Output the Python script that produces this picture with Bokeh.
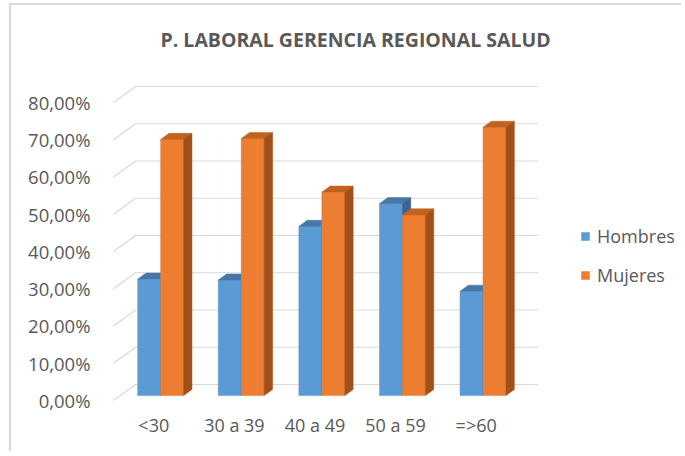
from bokeh.plotting import figure
from bokeh.models import Range1d, FixedTicker, Legend, LegendItem
from bokeh.embed import file_html
from bokeh.resources import INLINE

# ---- data ----
categories = ["<30", "30 a 39", "40 a 49", "50 a 59", "=>60"]
hombres = [31.25, 31.0, 45.4, 51.5, 28.0]
mujeres = [68.75, 69.0, 54.6, 48.5, 72.0]
series_names = ["Hombres", "Mujeres"]
y_ticks = [0, 10, 20, 30, 40, 50, 60, 70, 80]
y_tick_labels = ["0,00%", "10,00%", "20,00%", "30,00%", "40,00%",
                 "50,00%", "60,00%", "70,00%", "80,00%"]
title_text = "P. LABORAL GERENCIA REGIONAL SALUD"

# ---- styling / 3D projection parameters ----
DX = 0.273   # horizontal shift of full depth (category units)
DY = 4.295   # vertical shift of full depth (percent units)
D0, D1 = 0.31, 0.69  # bar depth span
BW = 0.285   # bar width (category units)
front_cols = ["#5b9bd5", "#ed7d31"]
top_cols = ["#4677a8", "#c1621f"]
side_cols = ["#3b6591", "#a0511b"]
TXT = "#595959"
FONT = "Open Sans"

p = figure(width=672, height=448,
           x_range=Range1d(-0.5248, 6.572), y_range=Range1d(-1.074, 88.59),
           output_backend="svg", toolbar_location=None,
           min_border_left=100, min_border_right=0,
           min_border_top=65, min_border_bottom=49,
           title=title_text)
p.styles = {"border-left": "2px solid #d9d9d9", "border-top": "2px solid #d9d9d9",
            "margin-top": "3px", "margin-left": "9px"}
p.outline_line_color = None
p.xgrid.visible = False
p.ygrid.visible = False
p.background_fill_color = "white"
p.border_fill_color = "white"

p.title.text_font = FONT
p.title.text_font_style = "bold"
p.title.text_font_size = "19.5px"
p.title.text_color = TXT
p.title.align = "left"
p.title.offset = 49
p.title.standoff = 36

# 3D gridlines (left diagonal + back wall)
n = len(categories)
gx = [[-0.5, -0.5 + DX, n - 0.5 + DX] for t in y_ticks]
gy = [[t, t + DY, t + DY] for t in y_ticks]
p.multi_line(gx, gy, line_color="#d9d9d9", line_width=1.2)

# bars
legend_items = []
for s, vals in enumerate([hombres, mujeres]):
    fl, fr, fb, ft = [], [], [], []
    txs, tys, sxs, sys_ = [], [], [], []
    for i, v in enumerate(vals):
        xl = i - BW + s * BW
        xr = xl + BW
        fl.append(xl + D0 * DX)
        fr.append(xr + D0 * DX)
        fb.append(D0 * DY)
        ft.append(v + D0 * DY)
        txs.append([xl + D0 * DX, xr + D0 * DX, xr + D1 * DX, xl + D1 * DX])
        tys.append([v + D0 * DY, v + D0 * DY, v + D1 * DY, v + D1 * DY])
        sxs.append([xr + D0 * DX, xr + D1 * DX, xr + D1 * DX, xr + D0 * DX])
        sys_.append([D0 * DY, D1 * DY, v + D1 * DY, v + D0 * DY])
    r = p.quad(left=fl, right=fr, bottom=fb, top=ft, fill_color=front_cols[s],
               line_color=front_cols[s], line_width=0.5)
    p.patches(txs, tys, fill_color=top_cols[s], line_color=top_cols[s], line_width=0.5)
    p.patches(sxs, sys_, fill_color=side_cols[s], line_color=side_cols[s], line_width=0.5)
    legend_items.append(LegendItem(label=series_names[s], renderers=[r]))

legend = Legend(items=legend_items, location=(469, 117),
                glyph_width=10, glyph_height=10, label_height=25, spacing=14,
                label_standoff=7, padding=0, margin=0,
                border_line_color=None, background_fill_alpha=0,
                label_text_font=FONT, label_text_font_size="18px",
                label_text_color=TXT)
p.add_layout(legend)

# axes
p.yaxis.ticker = FixedTicker(ticks=y_ticks)
p.yaxis.major_label_overrides = dict(zip(y_ticks, y_tick_labels))
p.xaxis.ticker = FixedTicker(ticks=list(range(n)))
p.xaxis.major_label_overrides = {i: c for i, c in enumerate(categories)}
for ax in (p.xaxis, p.yaxis):
    ax.axis_line_color = None
    ax.major_tick_line_color = None
    ax.minor_tick_line_color = None
    ax.major_label_text_font = FONT
    ax.major_label_text_color = TXT
p.xaxis.major_label_text_font_size = "18px"
p.yaxis.major_label_text_font_size = "18.5px"
p.yaxis.major_label_standoff = 15
p.xaxis.major_label_standoff = 2

open("out.html", "w").write(file_html(p, INLINE))
